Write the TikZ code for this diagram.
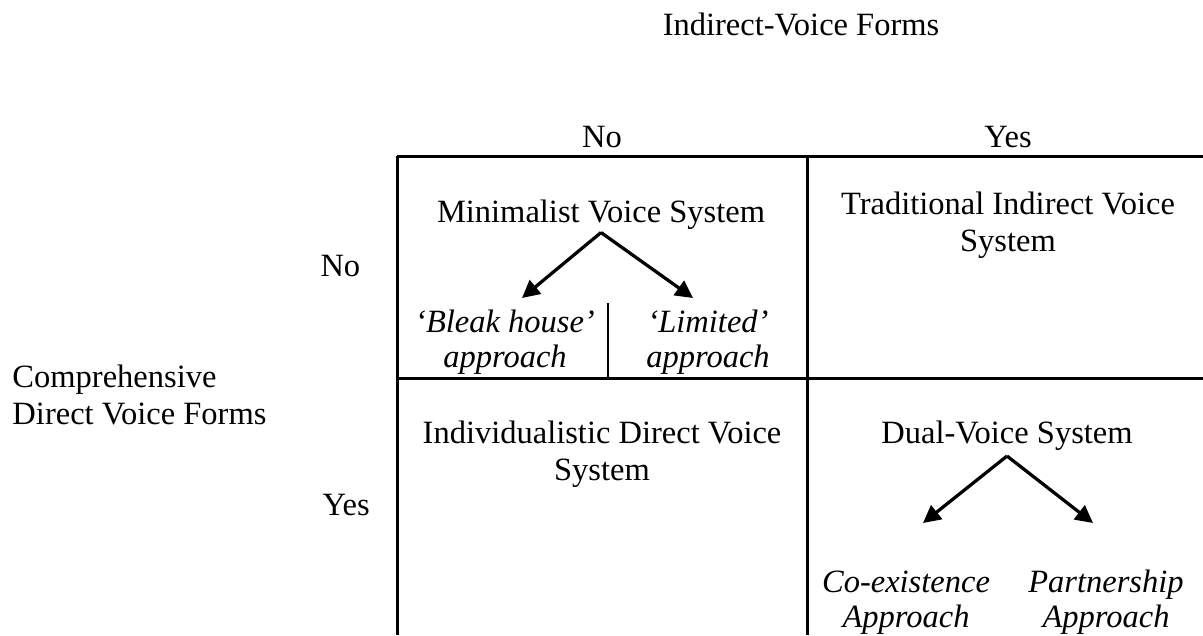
\documentclass[tikz,border=0pt]{standalone}
\usepackage{fontspec}
\setmainfont{Liberation Serif}
\usetikzlibrary{arrows.meta}

\tikzset{
  txt/.style={inner sep=0pt, align=center, anchor=base,
    font=\fontsize{13}{14.7}\selectfont},
  sub/.style={txt, font=\fontsize{13}{14}\selectfont\itshape},
  branch/.style={line width=1.3pt, -{Triangle[length=7pt,width=7pt]}},
  rule/.style={line width=1.2pt}
}

\begin{document}
\begin{tikzpicture}[x=0.4pt, y=-0.4pt]
\useasboundingbox (0,0) rectangle (1203,635);

% the grid, open to the right and below
\draw[rule] (397,156) -- (1203,156);
\draw[rule] (397,378) -- (1203,378);
\draw[rule] (397,156) -- (397,635);
\draw[rule] (807,156) -- (807,635);
\draw[line width=0.9pt] (608,303) -- (608,378);

% axis headings (multi-line nodes sit on their last baseline)
\node[txt] (indirect) at (801,35) {Indirect-Voice Forms};
\node[txt] (col-no) at (602,147) {No};
\node[txt] (col-yes) at (1008,147) {Yes};
\node[txt, anchor=base west, align=left] (direct) at (12,424) {Comprehensive\\Direct Voice Forms};
\node[txt, anchor=base west] (row-no) at (320,276) {No};
\node[txt, anchor=base west] (row-yes) at (322,515) {Yes};

% the four cells
\node[txt, outer ysep=1.4pt] (minimal) at (601,222) {Minimalist Voice System};
\node[txt] (trad) at (1008,251) {Traditional Indirect Voice\\System};
\node[txt] (indiv) at (602,480) {Individualistic Direct Voice\\System};
\node[txt, outer ysep=2.4pt] (dual) at (1007,443) {Dual-Voice System};

% sub-types
\node[sub] (bleak) at (505,367) {`Bleak house'\\approach};
\node[sub] (limited) at (708,367) {`Limited'\\approach};
\node[sub] (coexist) at (906,627) {Co-existence\\Approach};
\node[sub] (partner) at (1106,627) {Partnership\\Approach};

\coordinate (bleak-tip) at (522,298);
\coordinate (limited-tip) at (693,298);
\coordinate (coexist-tip) at (923,523);
\coordinate (partner-tip) at (1093,523);

\draw[branch] (minimal.south) -- (bleak-tip);
\draw[branch] (minimal.south) -- (limited-tip);
\draw[branch] (dual.south) -- (coexist-tip);
\draw[branch] (dual.south) -- (partner-tip);
\end{tikzpicture}
\end{document}
